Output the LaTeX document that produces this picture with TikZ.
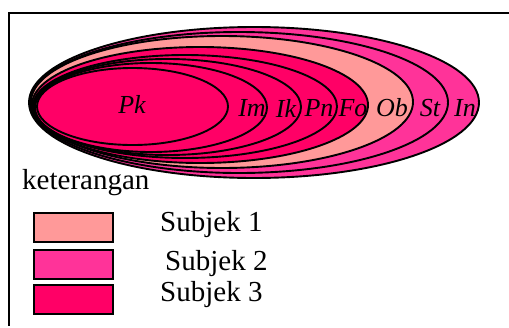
\documentclass[tikz,border=0pt]{standalone}
\usepackage{fontspec}
\setmainfont{Liberation Serif}
\usetikzlibrary{shapes.geometric}
\definecolor{subA}{HTML}{FF9999}
\definecolor{subB}{HTML}{FF3399}
\definecolor{subC}{HTML}{FF0066}
\tikzset{
  ell/.style={ellipse, draw=black, line width=1.9pt, inner sep=0pt, outer sep=0pt},
  lab/.style={font=\fontsize{26}{26}\selectfont\itshape, inner sep=0pt, anchor=center},
  legtxt/.style={font=\fontsize{29}{29}\selectfont, inner sep=0pt, anchor=west},
  legbox/.style={draw=black, line width=2pt, minimum width=79pt, minimum height=29pt, inner sep=0pt},
  frame/.style={line width=2pt}
}
\begin{document}
\begin{tikzpicture}[x=1pt,y=-1pt]
\useasboundingbox (0,0) rectangle (509,327);
\coordinate (fa) at (509,12.5);
\coordinate (fb) at (8.5,12.5);
\coordinate (fc) at (8.5,326);
\draw[frame] (fa) -- (fb) -- (fc);
% ellipses, outermost first
\node[ell, fill=subB, minimum width=450pt, minimum height=151pt] (In) at (254,102.5) {};
\node[ell, fill=subB, minimum width=418pt, minimum height=141pt] (St) at (239,102.5) {};
\node[ell, fill=subA, minimum width=382pt, minimum height=132pt] (Ob) at (222,102) {};
\node[ell, fill=subC, minimum width=336pt, minimum height=116pt] (Fo) at (200,105) {};
\node[ell, fill=subC, minimum width=304pt, minimum height=103pt] (Pn) at (185,106.5) {};
\node[ell, fill=subC, minimum width=267pt, minimum height=96pt] (Ik) at (167.5,107) {};
\node[ell, fill=subC, minimum width=232pt, minimum height=89pt] (Im) at (151,107.5) {};
\node[ell, fill=subC, minimum width=191pt, minimum height=77pt] (Pk) at (132.5,106.5) {};
% labels
\node[lab] (lPk) at (132,104) {Pk};
\node[lab] (lIm) at (252,108) {Im};
\node[lab] (lIk) at (286,108) {Ik};
\node[lab] (lPn) at (319,108) {Pn};
\node[lab] (lFo) at (353,108) {Fo};
\node[lab] (lOb) at (392,108) {Ob};
\node[lab] (lSt) at (430,108) {St};
\node[lab] (lIn) at (465,108) {In};
% legend
\node[legtxt] (ket) at (22,183) {keterangan};
\node[legbox, fill=subA] (b1) at (73.5,227.5) {};
\node[legbox, fill=subB] (b2) at (73.5,264) {};
\node[legbox, fill=subC] (b3) at (73.5,299.5) {};
\node[legtxt] (t1) at (160,225) {Subjek 1};
\node[legtxt] (t2) at (165,264) {Subjek 2};
\node[legtxt] (t3) at (160,295) {Subjek 3};
\end{tikzpicture}
\end{document}
